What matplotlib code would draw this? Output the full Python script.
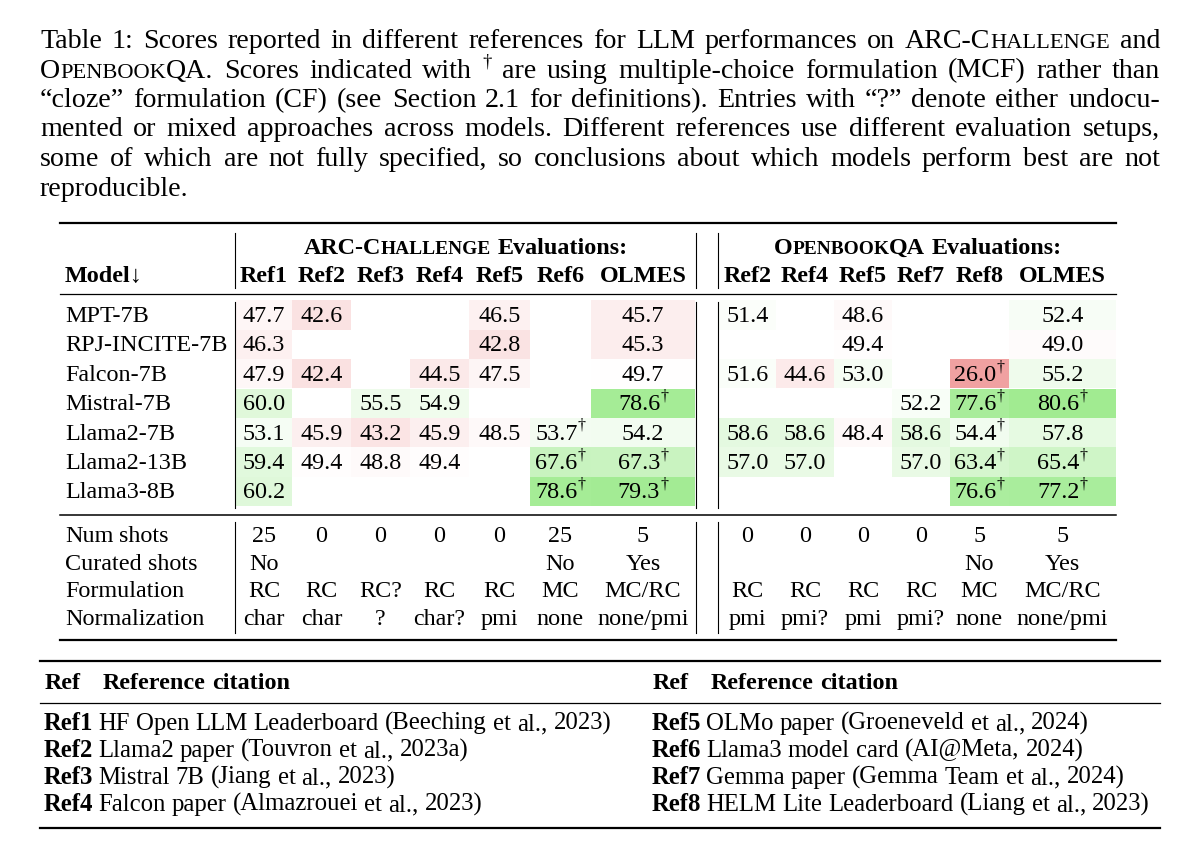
import numpy as np
import matplotlib
matplotlib.use('Agg')
import matplotlib.pyplot as plt
from matplotlib.patches import Rectangle

plt.rcParams['font.family'] = ['Liberation Serif', 'DejaVu Serif']

nan = np.nan

models = ["MPT-7B", "RPJ-INCITE-7B", "Falcon-7B", "Mistral-7B",
          "Llama2-7B", "Llama2-13B", "Llama3-8B"]

arc_refs = ["Ref1", "Ref2", "Ref3", "Ref4", "Ref5", "Ref6", "OLMES"]
arc_scores = np.array([
    [47.7, 42.6, nan, nan, 46.5, nan, 45.7],
    [46.3, nan, nan, nan, 42.8, nan, 45.3],
    [47.9, 42.4, nan, 44.5, 47.5, nan, 49.7],
    [60.0, nan, 55.5, 54.9, nan, nan, 78.6],
    [53.1, 45.9, 43.2, 45.9, 48.5, 53.7, 54.2],
    [59.4, 49.4, 48.8, 49.4, nan, 67.6, 67.3],
    [60.2, nan, nan, nan, nan, 78.6, 79.3],
])
# 1 = multiple-choice formulation (dagger)
arc_mcf = np.array([
    [0, 0, 0, 0, 0, 0, 0],
    [0, 0, 0, 0, 0, 0, 0],
    [0, 0, 0, 0, 0, 0, 0],
    [0, 0, 0, 0, 0, 0, 1],
    [0, 0, 0, 0, 0, 1, 0],
    [0, 0, 0, 0, 0, 1, 1],
    [0, 0, 0, 0, 0, 1, 1],
])

obqa_refs = ["Ref2", "Ref4", "Ref5", "Ref7", "Ref8", "OLMES"]
obqa_scores = np.array([
    [51.4, nan, 48.6, nan, nan, 52.4],
    [nan, nan, 49.4, nan, nan, 49.0],
    [51.6, 44.6, 53.0, nan, 26.0, 55.2],
    [nan, nan, nan, 52.2, 77.6, 80.6],
    [58.6, 58.6, 48.4, 58.6, 54.4, 57.8],
    [57.0, 57.0, nan, 57.0, 63.4, 65.4],
    [nan, nan, nan, nan, 76.6, 77.2],
])
obqa_mcf = np.array([
    [0, 0, 0, 0, 0, 0],
    [0, 0, 0, 0, 0, 0],
    [0, 0, 0, 0, 1, 0],
    [0, 0, 0, 0, 1, 1],
    [0, 0, 0, 0, 1, 0],
    [0, 0, 0, 0, 1, 1],
    [0, 0, 0, 0, 1, 1],
])

setup_labels = ["Num shots", "Curated shots", "Formulation", "Normalization"]
arc_shots = ["25", "0", "0", "0", "0", "25", "5"]
arc_curated = ["No", "", "", "", "", "No", "Yes"]
arc_formulation = ["RC", "RC", "RC?", "RC", "RC", "MC", "MC/RC"]
arc_norm = ["char", "char", "?", "char?", "pmi", "none", "none/pmi"]
obqa_shots = ["0", "0", "0", "0", "5", "5"]
obqa_curated = ["", "", "", "", "No", "Yes"]
obqa_formulation = ["RC", "RC", "RC", "RC", "MC", "MC/RC"]
obqa_norm = ["pmi", "pmi?", "pmi", "pmi?", "none", "none/pmi"]

cite_ids = ["Ref1", "Ref2", "Ref3", "Ref4", "Ref5", "Ref6", "Ref7", "Ref8"]
cite_texts = ["HF Open LLM Leaderboard (Beeching et al., 2023)",
              "Llama2 paper (Touvron et al., 2023a)",
              "Mistral 7B (Jiang et al., 2023)",
              "Falcon paper (Almazrouei et al., 2023)",
              "OLMo paper (Groeneveld et al., 2024)",
              "Llama3 model card (AI@Meta, 2024)",
              "Gemma paper (Gemma Team et al., 2024)",
              "HELM Lite Leaderboard (Liang et al., 2023)"]

# {..} = small caps, ^ = superscript next char
caption = [
    "Table 1: Scores reported in different references for LLM performances on {ARC-Challenge} and",
    "{OpenbookQA}. Scores indicated with ^† are using multiple-choice formulation (MCF) rather than",
    "\u201ccloze\u201d formulation (CF) (see Section 2.1 for definitions). Entries with \u201c?\u201d denote either undocu-",
    "mented or mixed approaches across models. Different references use different evaluation setups,",
    "some of which are not fully specified, so conclusions about which models perform best are not",
    "reproducible.",
]

fig = plt.figure(figsize=(12, 8.55), dpi=100)
ax = fig.add_axes([0, 0, 1, 1])
ax.set_xlim(0, 1200)
ax.set_ylim(855, 0)
ax.axis('off')
renderer = fig.canvas.get_renderer()

CAP = 20.2
TAB = 17.4
CIT = 17.8

_cache = {}


def _ext(s, size, weight):
    key = (s, size, weight)
    if key not in _cache:
        t = ax.text(0, 0, s, fontsize=size, fontweight=weight)
        _cache[key] = t.get_window_extent(renderer).width
        t.remove()
    return _cache[key]


def measure(s, size, weight):
    # advance width: pad with a reference glyph so bearings are counted
    return _ext('H' + s + 'H', size, weight) - _ext('HH', size, weight)


def parse(word, size, weight):
    runs = []
    sc = False
    i = 0
    while i < len(word):
        c = word[i]
        if c == '{':
            sc = True
        elif c == '}':
            sc = False
        elif c == '^':
            runs.append([word[i + 1], size * 0.66, weight, size * 0.40 * 100 / 72])
            i += 1
        elif sc and c.islower():
            runs.append([c.upper(), size * 0.80, weight, 0])
        else:
            runs.append([c, size, weight, 0])
        i += 1
    merged = []
    for r in runs:
        if merged and merged[-1][1:] == r[1:]:
            merged[-1][0] += r[0]
        else:
            merged.append(r)
    return merged


def runs_width(runs):
    return sum(measure(s, z, w) for s, z, w, _ in runs)


def draw_runs(x, y, runs):
    for s, z, w, dy in runs:
        ax.text(x, y - dy, s, fontsize=z, fontweight=w, va='baseline', ha='left')
        x += measure(s, z, w)


def draw_words(x, y, text, size, weight, ha='left', width=None):
    words = [parse(w, size, weight) for w in text.split(' ')]
    widths = [runs_width(r) for r in words]
    gap = size * 100 / 72 * 0.25
    if width is not None and len(words) > 1:
        gap = (width - sum(widths)) / (len(words) - 1)
    total = sum(widths) + gap * (len(words) - 1)
    if ha == 'center':
        x -= total / 2
    for r, w in zip(words, widths):
        draw_runs(x, y, r)
        x += w + gap


# caption
cap_y = [40, 69.5, 99, 128.5, 158, 187.5]
for i, line in enumerate(caption):
    last = i == len(caption) - 1
    draw_words(40, cap_y[i] + 8, line, CAP, 'normal', width=None if last else 1120)

# column geometry
arc_edges = [236, 292, 351, 410, 469, 530, 591, 695]
obqa_edges = [719, 776, 834, 892, 950, 1009, 1116]
arc_cx = [(a + b) / 2 for a, b in zip(arc_edges[:-1], arc_edges[1:])]
obqa_cx = [(a + b) / 2 for a, b in zip(obqa_edges[:-1], obqa_edges[1:])]

row_y = [315 + 29.4 * i for i in range(len(models))]
row_h = 29.4
setup_y = [535 + 27.7 * i for i in range(len(setup_labels))]
base = 7.0

red = np.array([0.94, 0.63, 0.63])
green = np.array([0.63, 0.92, 0.57])


def shade(v):
    if v >= 50:
        t = min((v - 50) / 30, 1.0)
        c = green
    else:
        t = min((50 - v) / 24, 1.0)
        c = red
    return tuple((1 - t) + t * c)


# rules
ax.plot([60, 1116], [223, 223], color='black', lw=1.6)
ax.plot([60, 1116], [294, 294], color='black', lw=0.9)
ax.plot([60, 1116], [515, 515], color='black', lw=1.1)
ax.plot([60, 1116], [640, 640], color='black', lw=1.6)
for xv in [235, 696, 718]:
    for y0, y1 in [(233, 288), (302, 508), (522, 633)]:
        ax.plot([xv, xv], [y0, y1], color='black', lw=0.8)

# header
draw_words((arc_edges[0] + arc_edges[-1]) / 2, 247 + base, "{ARC-Challenge} Evaluations:", TAB, 'bold', ha='center')
draw_words((obqa_edges[0] + obqa_edges[-1]) / 2, 247 + base, "{OpenbookQA} Evaluations:", TAB, 'bold', ha='center')
draw_words(65, 275 + base, "Model\u2193", TAB, 'bold')
for cx, r in zip(arc_cx, arc_refs):
    draw_words(cx, 275 + base, r, TAB, 'bold', ha='center')
for cx, r in zip(obqa_cx, obqa_refs):
    draw_words(cx, 275 + base, r, TAB, 'bold', ha='center')


def draw_scores(scores, mcf, edges, cx):
    for i in range(scores.shape[0]):
        for j in range(scores.shape[1]):
            v = scores[i, j]
            if np.isnan(v):
                continue
            ax.add_patch(Rectangle((edges[j], row_y[i] - row_h / 2), edges[j + 1] - edges[j], row_h,
                                   facecolor=shade(v), edgecolor='none', zorder=0))
            label = f"{v:.1f}" + ("^\u2020" if mcf[i, j] else "")
            draw_words(cx[j], row_y[i] + base, label, TAB, 'normal', ha='center')


for i, m in enumerate(models):
    draw_words(65, row_y[i] + base, m, TAB, 'normal')
draw_scores(arc_scores, arc_mcf, arc_edges, arc_cx)
draw_scores(obqa_scores, obqa_mcf, obqa_edges, obqa_cx)

arc_setup = [arc_shots, arc_curated, arc_formulation, arc_norm]
obqa_setup = [obqa_shots, obqa_curated, obqa_formulation, obqa_norm]
for i, lab in enumerate(setup_labels):
    draw_words(65, setup_y[i] + base, lab, TAB, 'normal')
    for cx, s in zip(arc_cx, arc_setup[i]):
        if s:
            draw_words(cx, setup_y[i] + base, s, TAB, 'normal', ha='center')
    for cx, s in zip(obqa_cx, obqa_setup[i]):
        if s:
            draw_words(cx, setup_y[i] + base, s, TAB, 'normal', ha='center')

# reference table
ax.plot([40, 1160], [661, 661], color='black', lw=1.6)
ax.plot([40, 1160], [703, 703], color='black', lw=0.9)
ax.plot([40, 1160], [828, 828], color='black', lw=1.6)
cite_y = [723, 750, 777, 804]
for off in [0, 608]:
    draw_words(45 + off, 682 + base, "Ref", TAB, 'bold')
    draw_words(103 + off, 682 + base, "Reference citation", TAB, 'bold')
for k, (rid, txt) in enumerate(zip(cite_ids, cite_texts)):
    off = 0 if k < 4 else 608
    y = cite_y[k % 4] + base
    draw_words(44 + off, y, rid, CIT, 'bold')
    draw_words(98 + off, y, txt, CIT, 'normal')

fig.savefig('out.png', dpi=100, facecolor='white')
